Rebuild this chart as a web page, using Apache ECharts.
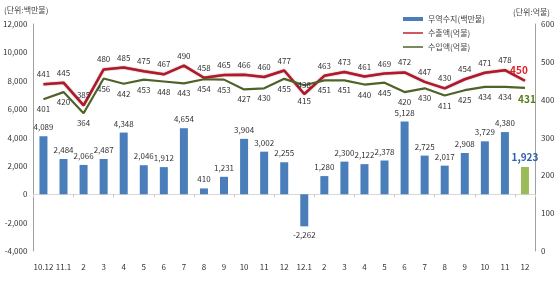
<!DOCTYPE html>
<html><head><meta charset="utf-8">
<script src="https://cdn.jsdelivr.net/npm/echarts@6/dist/echarts.min.js"></script>
<style>html,body{margin:0;padding:0;background:#fff}#c{width:560px;height:297px}</style>
</head><body><div id="c"></div>
<script>
var categories = ['10.12','11.1','2','3','4','5','6','7','8','9','10','11','12','12.1','2','3','4','5','6','7','8','9','10','11','12'];
var balance = [4089,2484,2066,2487,4348,2046,1912,4654,410,1231,3904,3002,2255,-2262,1280,2300,2122,2378,5128,2725,2017,2908,3729,4380,1923];
var exportsV = [441,445,385,480,485,475,467,490,458,465,466,460,477,415,463,473,461,469,472,447,430,454,471,478,450];
var importsV = [401,420,364,456,442,453,448,443,454,453,427,430,455,438,451,451,440,445,420,430,411,425,434,434,431];
var leftTicks = [-4000,12000,2000];
var rightTicks = [0,600,100];

var F = 'Malgun Gothic, "Noto Sans CJK KR", sans-serif';
var last = balance.length - 1;
var barData = balance.map(function(v,i){
  if(i===last) return {value:v,itemStyle:{color:'#9bbb59'},label:{color:'#2f5fa8',fontWeight:'bold',fontSize:10}};
  if(v<0) return {value:v,label:{position:'bottom'}};
  return v;
});
var expData = exportsV.map(function(v,i){
  if(i===last) return {value:v,label:{color:'#e0202a',fontWeight:'bold',fontSize:10,offset:[-6,0]}};
  if(exportsV[i] < importsV[i]) return {value:v,label:{position:'bottom',distance:3}};
  return v;
});
var impData = importsV.map(function(v,i){
  if(i===last) return {value:v,label:{color:'#5a7a1a',fontWeight:'bold',fontSize:10,offset:[2,0]}};
  if(exportsV[i] < importsV[i]) return {value:v,label:{position:'top',distance:-4}};
  return v;
});
var fmt = function(v){return v.toLocaleString('en-US');};
var chart = echarts.init(document.getElementById('c'));
chart.setOption({
  animation:false,
  textStyle:{fontFamily:F},
  graphic:[
    {type:'text',left:4,top:6,style:{text:'(단위:백만불)',font:'8px '+F,fill:'#444'}},
    {type:'text',left:513,top:8,style:{text:'(단위:억불)',font:'8px '+F,fill:'#444'}}
  ],
  legend:{
    orient:'vertical',left:398,top:10,itemWidth:20,itemHeight:4,itemGap:6,
    textStyle:{fontSize:8,color:'#444',fontFamily:F},
    data:[
      {name:'무역수지(백만불)',icon:'rect'},
      {name:'수출액(억불)',icon:'path://M0,0L20,0L20,1.5L0,1.5Z'},
      {name:'수입액(억불)',icon:'path://M0,0L20,0L20,1.5L0,1.5Z'}
    ]
  },
  grid:{left:33,right:25,top:24,bottom:46},
  xAxis:[
    {type:'category',data:categories,position:'bottom',
     axisLine:{show:false,onZero:false},axisTick:{show:false},
     axisLabel:{fontSize:8,color:'#333',interval:0,margin:12}},
    {type:'category',data:categories,position:'top',
     axisLine:{show:true,onZero:true,onZeroAxisIndex:0,lineStyle:{color:'#d8d8d8'}},
     axisTick:{show:true,inside:true,length:3,lineStyle:{color:'#c8c8c8'}},
     axisLabel:{show:false}}
  ],
  yAxis:[
    {type:'value',min:leftTicks[0],max:leftTicks[1],interval:leftTicks[2],
     axisLine:{show:true,lineStyle:{color:'#a0a0a0'}},axisTick:{show:false},
     splitLine:{show:false},
     axisLabel:{fontSize:8,color:'#333',margin:6,formatter:fmt}},
    {type:'value',min:rightTicks[0],max:rightTicks[1],interval:rightTicks[2],
     axisLine:{show:true,lineStyle:{color:'#a0a0a0'}},axisTick:{show:false},
     splitLine:{show:false},
     axisLabel:{fontSize:8,color:'#333',margin:6}}
  ],
  series:[
    {name:'무역수지(백만불)',type:'bar',xAxisIndex:0,yAxisIndex:0,data:barData,barWidth:8,
     itemStyle:{color:'#4a7ebb'},
     label:{show:true,position:'top',distance:5,fontSize:8,color:'#333',
       formatter:function(p){return fmt(p.value);}}},
    {name:'수출액(억불)',type:'line',xAxisIndex:0,yAxisIndex:1,data:expData,
     symbol:'circle',symbolSize:0,showSymbol:true,
     itemStyle:{color:'#c0202e'},
     lineStyle:{color:'#b3182a',width:2.5,shadowColor:'rgba(60,0,0,0.5)',shadowBlur:1.5},
     label:{show:true,position:'top',distance:6,fontSize:8,color:'#333'},z:3},
    {name:'수입액(억불)',type:'line',xAxisIndex:0,yAxisIndex:1,data:impData,
     symbol:'circle',symbolSize:0,showSymbol:true,
     itemStyle:{color:'#4f6228'},
     lineStyle:{color:'#4f6228',width:2.2},
     label:{show:true,position:'bottom',distance:6,fontSize:8,color:'#333'},z:3}
  ]
});
</script></body></html>
